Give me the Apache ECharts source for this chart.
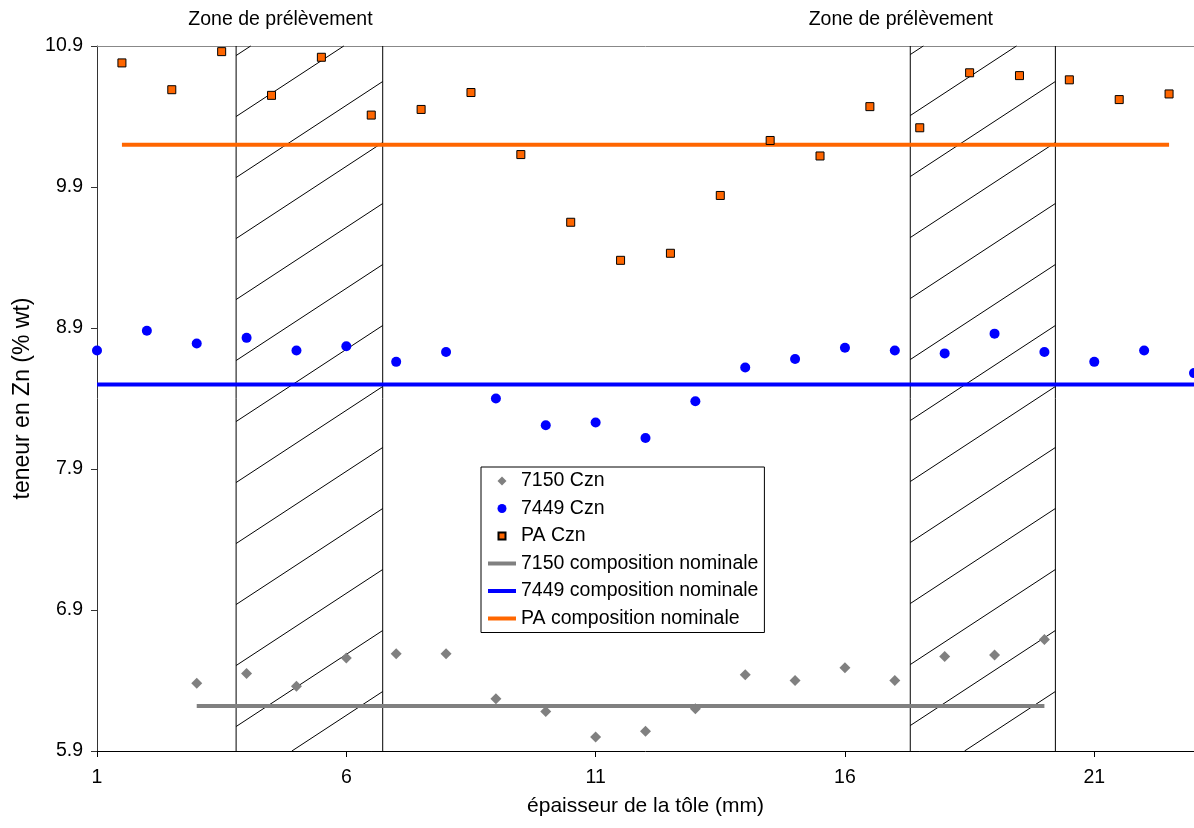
<!DOCTYPE html>
<html>
<head>
<meta charset="utf-8">
<script src="https://cdn.jsdelivr.net/npm/echarts@6/dist/echarts.min.js"></script>
<style>
html,body{margin:0;padding:0;background:#fff;}
#chart{width:1194px;height:828px;}
</style>
</head>
<body>
<div id="chart"></div>
<script>
// ---- data ----
const x7150 = [3,4,5,6,7,8,9,10,11,12,13,14,15,16,17,18,19,20];
const y7150 = [6.38,6.45,6.36,6.56,6.59,6.59,6.27,6.18,6.00,6.04,6.20,6.44,6.40,6.49,6.40,6.57,6.58,6.69];
const x7449 = [1,2,3,4,5,6,7,8,9,10,11,12,13,14,15,16,17,18,19,20,21,22,23];
const y7449 = [8.74,8.88,8.79,8.83,8.74,8.77,8.66,8.73,8.40,8.21,8.23,8.12,8.38,8.62,8.68,8.76,8.74,8.72,8.86,8.73,8.66,8.74,8.58];
const xPA = [1.5,2.5,3.5,4.5,5.5,6.5,7.5,8.5,9.5,10.5,11.5,12.5,13.5,14.5,15.5,16.5,17.5,18.5,19.5,20.5,21.5,22.5];
const yPA = [10.78,10.59,10.86,10.55,10.82,10.41,10.45,10.57,10.13,9.65,9.38,9.43,9.84,10.23,10.12,10.47,10.32,10.71,10.69,10.66,10.52,10.56];
const nominal7150 = {value: 6.22, from: 3, to: 20};
const nominal7449 = {value: 8.5, from: 1, to: 23};
const nominalPA = {value: 10.2, from: 1.5, to: 22.5};
const zones = [[3.79, 6.73], [17.31, 20.22]];
const zoneLabelX = [4.68, 17.12];
const zoneLabelText = 'Zone de prélèvement';
const seriesNames = ['7150 Czn','7449 Czn','PA Czn','7150 composition nominale','7449 composition nominale','PA composition nominale'];
const xTitle = 'épaisseur de la tôle (mm)';
const yTitle = 'teneur en Zn (% wt)';
const xMin = 1, xMax = 23, xStep = 5;
const yMin = 5.9, yMax = 10.9, yStep = 1;

const FONT = '"Liberation Sans", Arial, sans-serif';
const zip = (xs, ys) => xs.map((x, i) => [x, ys[i]]);
const nomLine = n => [[n.from, n.value], [n.to, n.value]];

const chart = echarts.init(document.getElementById('chart'));

function hatchRender(params, api) {
  const x0 = api.value(0), x1 = api.value(1);
  const pTop = api.coord([x0, yMax]);
  const pBot = api.coord([x1, yMin]);
  const xl = pTop[0], xr = pBot[0], yt = pTop[1], yb = pBot[1];
  const s = 0.655, gap = 61, off = 35.5;
  const children = [];
  const ls = {stroke: '#000', lineWidth: 1};
  children.push({type: 'line', shape: {x1: xl, y1: yt, x2: xl, y2: yb}, style: ls});
  children.push({type: 'line', shape: {x1: xr, y1: yt, x2: xr, y2: yb}, style: ls});
  for (let k = -3; k < 20; k++) {
    const yR = yt + off + gap * k;
    const yL = yR + s * (xr - xl);
    if (yL < yt || yR > yb) continue;
    let xa = xl, xb = xr, ya = yL, yb2 = yR;
    if (yR < yt) { xb = xr - (yt - yR) / s; yb2 = yt; }
    if (yL > yb) { xa = xr - (yb - yR) / s; ya = yb; }
    children.push({type: 'line', shape: {x1: xa, y1: ya, x2: xb, y2: yb2}, style: ls});
  }
  return {type: 'group', children};
}

const hideSym = {color: 'rgba(0,0,0,0)', borderColor: 'rgba(0,0,0,0)', borderWidth: 0};
// legend icons: small marker centred in a 28x9 box (corner moves fix the box)
const BOX = 'M0,0M28,0M0,9M28,9';
const iconDiamond = 'path://' + BOX + 'M14,0L18.5,4.5L14,9L9.5,4.5Z';
const iconSquare = 'path://' + BOX + 'M10.5,1L17.5,1L17.5,8L10.5,8Z';

const option = {
  backgroundColor: '#fff',
  animation: false,
  textStyle: {fontFamily: FONT},
  grid: {left: 97, top: 46, width: 1099, height: 705, show: false},
  xAxis: [{
    type: 'value', min: xMin, max: xMax, interval: xStep,
    splitLine: {show: false},
    axisLine: {onZero: false, lineStyle: {color: '#000', width: 1}},
    axisTick: {show: true, length: 6, inside: false, lineStyle: {color: '#000'}},
    axisLabel: {color: '#000', fontSize: 19.5, fontFamily: FONT, margin: 17, showMaxLabel: false,
      formatter: v => (Math.abs(v - xMax) < 1e-9 ? '' : String(Math.round(v)))},
    name: xTitle, nameLocation: 'middle', nameGap: 45,
    nameTextStyle: {color: '#000', fontSize: 21, fontFamily: FONT}
  }, {
    type: 'value', position: 'top', min: xMin, max: xMax, interval: xStep,
    splitLine: {show: false}, axisTick: {show: false}, axisLabel: {show: false},
    axisLine: {show: true, onZero: false, lineStyle: {color: '#888', width: 1}}
  }],
  yAxis: {
    type: 'value', min: yMin, max: yMax, interval: yStep,
    splitLine: {show: false},
    axisLine: {onZero: false, lineStyle: {color: '#333', width: 1}},
    axisTick: {show: true, length: 6, lineStyle: {color: '#333'}},
    axisLabel: {color: '#000', fontSize: 19.5, fontFamily: FONT, margin: 14, formatter: v => v.toFixed(1)},
    name: yTitle, nameLocation: 'middle', nameGap: 54, nameRotate: 90,
    nameTextStyle: {color: '#000', fontSize: 23, fontFamily: FONT}
  },
  legend: {
    data: [
      {name: seriesNames[0], icon: iconDiamond},
      {name: seriesNames[1], icon: 'circle'},
      {name: seriesNames[2], icon: iconSquare},
      {name: seriesNames[3], itemStyle: hideSym, lineStyle: {width: 4}},
      {name: seriesNames[4], itemStyle: hideSym, lineStyle: {width: 4}},
      {name: seriesNames[5], itemStyle: hideSym, lineStyle: {width: 4}}
    ],
    orient: 'vertical', left: 481, top: 467,
    padding: [4, 6, 4, 5], itemGap: 7.5, itemWidth: 28, itemHeight: 9,
    borderColor: '#000', borderWidth: 1, backgroundColor: '#fff',
    textStyle: {color: '#000', fontSize: 19.5, fontFamily: FONT, lineHeight: 20},
    selectedMode: false
  },
  series: [
    {type: 'custom', name: 'hatch', data: zones, renderItem: hatchRender, silent: true, z: 1, clip: false},
    {type: 'line', name: seriesNames[3], data: nomLine(nominal7150), symbol: 'none', lineStyle: {color: '#808080', width: 4}, itemStyle: {color: '#808080'}, z: 3},
    {type: 'line', name: seriesNames[4], data: nomLine(nominal7449), symbol: 'none', lineStyle: {color: '#0000FF', width: 4}, itemStyle: {color: '#0000FF'}, z: 3},
    {type: 'line', name: seriesNames[5], data: nomLine(nominalPA), symbol: 'none', lineStyle: {color: '#FF6600', width: 4}, itemStyle: {color: '#FF6600'}, z: 3},
    {type: 'scatter', name: seriesNames[0], data: zip(x7150, y7150), symbol: 'diamond', symbolSize: 11, itemStyle: {color: '#808080', opacity: 1}, z: 5},
    {type: 'scatter', name: seriesNames[1], data: zip(x7449, y7449), symbol: 'circle', symbolSize: 10, itemStyle: {color: '#0000FF', opacity: 1}, z: 5},
    {type: 'scatter', name: seriesNames[2], data: zip(xPA, yPA), symbol: 'rect', symbolSize: 8, itemStyle: {color: '#FF6600', borderColor: '#000', borderWidth: 1, opacity: 1}, z: 5}
  ]
};
chart.setOption(option);

// zone labels placed from data x
const gfx = zoneLabelX.map(x => {
  const p = chart.convertToPixel({gridIndex: 0}, [x, yMax]);
  return {type: 'text', x: p[0], y: 20,
    style: {text: zoneLabelText, fill: '#000', font: '19.5px ' + FONT, align: 'center', verticalAlign: 'middle'}};
});
chart.setOption({graphic: gfx});
</script>
</body>
</html>
